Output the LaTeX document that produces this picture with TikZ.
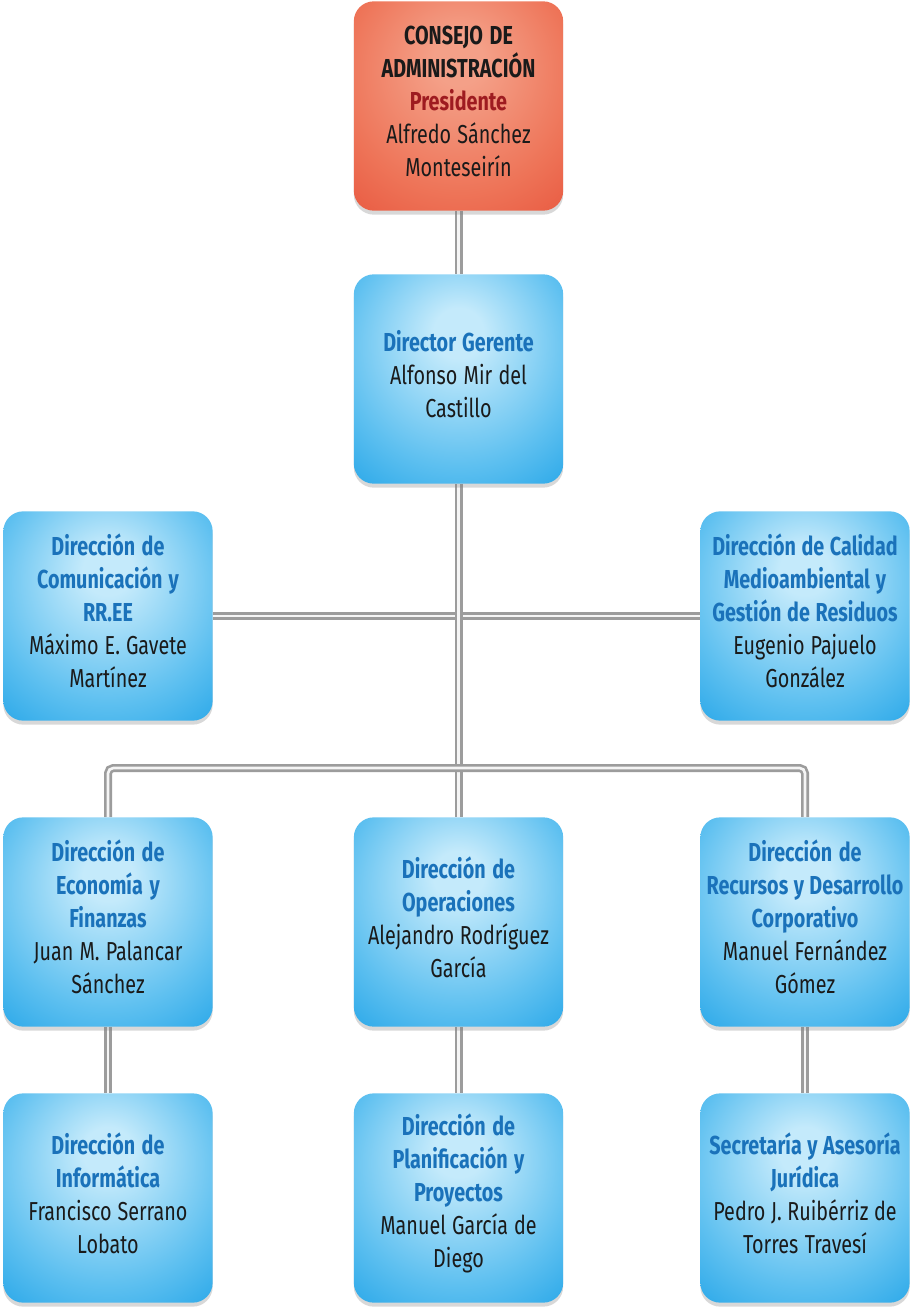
\documentclass[tikz,border=0pt]{standalone}
\usepackage{fontspec}
\setmainfont{Fira Sans}[FakeStretch=0.76]
\usetikzlibrary{shadows,backgrounds}
\definecolor{bl1}{HTML}{C4EAFB}
\definecolor{bl2}{HTML}{5EC0F0}
\definecolor{bl3}{HTML}{1AA0E6}
\definecolor{bl4}{HTML}{0C88CF}
\definecolor{rd1}{HTML}{F4A088}
\definecolor{rd2}{HTML}{EE7458}
\definecolor{rd3}{HTML}{E7533B}
\definecolor{rd4}{HTML}{D8432C}
\definecolor{ttl}{HTML}{1A72BA}
\definecolor{pres}{HTML}{9E1B20}
\definecolor{nm}{HTML}{1A1A1A}
\definecolor{pipeg}{HTML}{9C9C9C}
\pgfdeclareradialshading{bluesh}{\pgfpoint{0bp}{12bp}}{color(0bp)=(bl1); color(6bp)=(bl1); color(28bp)=(bl2); color(44bp)=(bl3); color(70bp)=(bl4)}
\pgfdeclareradialshading{redsh}{\pgfpoint{0bp}{12bp}}{color(0bp)=(rd1); color(6bp)=(rd1); color(28bp)=(rd2); color(44bp)=(rd3); color(70bp)=(rd4)}
\newcommand{\boxfont}{\fontsize{19.5}{24.75}\selectfont}
\newcommand{\tightsp}{\spaceskip=4pt plus 1pt minus 0.5pt\relax\xspaceskip=4pt\relax}
\tikzset{
  box/.style={rounded corners=15pt, minimum width=157pt, minimum height=157pt,
    text width=156pt, align=center, inner sep=0pt,
    font=\boxfont, text=nm, execute at begin node=\tightsp,
    execute at end node={\par\vspace*{7.5pt}},
    drop shadow={shadow xshift=0pt, shadow yshift=-3pt, opacity=0.3}},
  bluebox/.style={box, shading=bluesh},
  redbox/.style={box, shading=redsh},
  pipe/.style={draw=pipeg, line width=2pt, double=white!92!gray, double distance=2pt, rounded corners=4pt},
}
\newcommand{\ttl}[1]{\textcolor{ttl}{\bfseries #1}}
\begin{document}
\begin{tikzpicture}[x=0.75pt,y=-0.75pt]
\useasboundingbox (0,0) rectangle (912,1308);
\node[redbox] (cons) at (458.5,106) {{\bfseries CONSEJO DE\\ADMINISTRACIÓN}\\\textcolor{pres}{\bfseries Presidente}\\Alfredo Sánchez\\Monteseirín};
\node[bluebox] (dg) at (458.5,379) {\ttl{Director Gerente}\\Alfonso Mir del\\Castillo};
\node[bluebox] (com) at (108,616) {\ttl{Dirección de\\Comunicación y\\RR.EE}\\Máximo E. Gavete\\Martínez};
\node[bluebox] (cal) at (805,616) {\ttl{Dirección de Calidad\\Medioambiental y\\Gestión de Residuos}\\Eugenio Pajuelo\\González};
\node[bluebox] (eco) at (108,922) {\ttl{Dirección de\\Economía y\\Finanzas}\\Juan M. Palancar\\Sánchez};
\node[bluebox] (ope) at (458.5,922) {\ttl{Dirección de\\Operaciones}\\Alejandro Rodríguez\\García};
\node[bluebox] (rec) at (805,922) {\ttl{Dirección de\\Recursos y Desarrollo\\Corporativo}\\Manuel Fernández\\Gómez};
\node[bluebox] (inf) at (108,1198) {\ttl{Dirección de\\Informática}\\Francisco Serrano\\Lobato};
\node[bluebox] (pla) at (458.5,1198) {\ttl{Dirección de\\Planificación y\\Proyectos}\\Manuel García de\\Diego};
\node[bluebox] (sec) at (805,1198) {\ttl{Secretaría y Asesoría\\Jurídica}\\Pedro J. Ruibérriz de\\Torres Travesí};
\coordinate (bus) at (458.5,768);
\begin{scope}[on background layer]
\fill[white] (0,0) rectangle (912,1308);
\draw[pipe] (cons.south) -- (dg.north);
\draw[pipe] (com.east) -- (cal.west);
\draw[pipe] (dg.south) -- (ope.north);
\draw[pipe] (eco.north) -- (eco.north |- bus) -- (rec.north |- bus) -- (rec.north);
\draw[pipe] (eco.south) -- (inf.north);
\draw[pipe] (ope.south) -- (pla.north);
\draw[pipe] (rec.south) -- (sec.north);
\end{scope}
\end{tikzpicture}
\end{document}
